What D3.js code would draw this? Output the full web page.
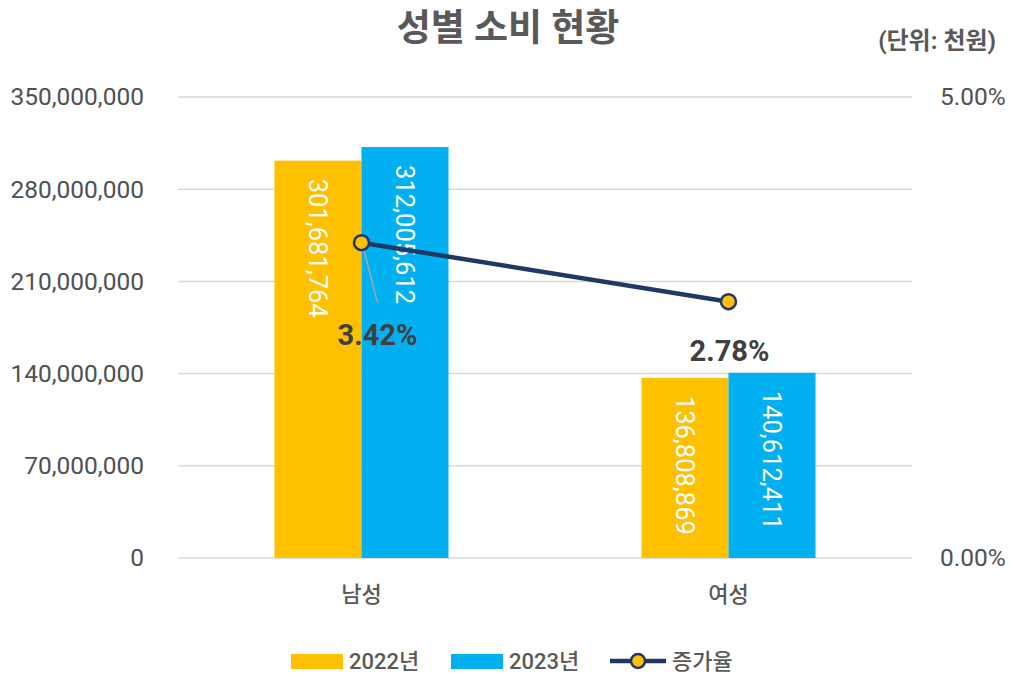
<!DOCTYPE html>
<html>
<head>
<meta charset="utf-8">
<script src="https://cdn.jsdelivr.net/npm/d3@7"></script>
<style>
    body { margin: 0; background: #fff; }
    svg text { font-family: Roboto, "Noto Sans CJK KR", sans-serif; }
</style>
</head>
<body>
<svg id="chart" width="1010" height="675"></svg>
<script>
// chart data
var categories = ["남성", "여성"];
var years = ["2022년", "2023년"];
var spend2022 = [301681764, 136808869];
var spend2023 = [312005612, 140612411];
var growth = [0.0342, 0.0278];
var leftTicks = [0, 70000000, 140000000, 210000000, 280000000, 350000000];
var rightTicks = [0, 0.05];

var colors = ["#FFC000", "#00B0F0"];
var lineColor = "#203864";
var textColor = "#595959";

var svg = d3.select("#chart"),
    margin = {top: 97, right: 98, bottom: 117, left: 178},
    width = +svg.attr("width") - margin.left - margin.right,
    height = +svg.attr("height") - margin.top - margin.bottom;

var g = svg.append("g")
    .attr("transform", "translate(" + margin.left + "," + margin.top + ")");

var x0 = d3.scaleBand().domain(categories).range([0, width]).padding(0);
var barW = 87;
var x1 = d3.scaleBand().domain(years)
    .range([x0.bandwidth() / 2 - barW, x0.bandwidth() / 2 + barW]);
var y = d3.scaleLinear().domain([0, 350000000]).range([height, 0]);
var y2 = d3.scaleLinear().domain([0, 0.05]).range([height, 0]);

// title
svg.append("text")
    .attr("x", 508).attr("y", 41)
    .attr("text-anchor", "middle")
    .attr("font-size", 37).attr("font-weight", "bold")
    .attr("fill", textColor)
    .text("성별 소비 현황");

svg.append("text")
    .attr("x", 996).attr("y", 49)
    .attr("text-anchor", "end")
    .attr("font-size", 24).attr("font-weight", "bold")
    .attr("fill", textColor)
    .text("(단위: 천원)");

// gridlines
g.append("g")
    .selectAll("line")
    .data(leftTicks)
    .enter().append("line")
    .attr("x1", 0).attr("x2", width)
    .attr("y1", function(d) { return y(d); })
    .attr("y2", function(d) { return y(d); })
    .attr("stroke", "#D9D9D9").attr("stroke-width", 1.5);

// left axis
var yAxis = g.append("g")
    .attr("transform", "translate(-31,0)")
    .call(d3.axisLeft(y).tickValues(leftTicks).tickSize(0).tickFormat(d3.format(",")));
yAxis.select(".domain").remove();
yAxis.selectAll("text")
    .attr("font-size", 24.5).attr("fill", "#505050")
    .style("font-family", "Roboto, sans-serif");

// right axis
var y2Axis = g.append("g")
    .attr("transform", "translate(" + (width + 25) + ",0)")
    .call(d3.axisRight(y2).tickValues(rightTicks).tickSize(0).tickFormat(d3.format(".2%")));
y2Axis.select(".domain").remove();
y2Axis.selectAll("text")
    .attr("font-size", 24.5).attr("fill", "#505050")
    .style("font-family", "Roboto, sans-serif");

// bottom axis
var xAxis = g.append("g")
    .attr("transform", "translate(0," + height + ")")
    .call(d3.axisBottom(x0).tickSize(0).tickPadding(28));
xAxis.select(".domain").remove();
xAxis.selectAll("text")
    .attr("font-size", 22).attr("font-weight", 500).attr("fill", textColor)
    .style("font-family", "Roboto, 'Noto Sans CJK KR', sans-serif");

// bars
var series = [spend2022, spend2023];
var groups = g.selectAll(".grp")
    .data(categories)
    .enter().append("g")
    .attr("class", "grp")
    .attr("transform", function(d) { return "translate(" + x0(d) + ",0)"; });

groups.selectAll("rect")
    .data(function(d, i) {
        return years.map(function(yr, j) { return {year: yr, value: series[j][i], k: j}; });
    })
    .enter().append("rect")
    .attr("x", function(d) { return x1(d.year); })
    .attr("width", x1.bandwidth())
    .attr("y", function(d) { return y(d.value); })
    .attr("height", function(d) { return height - y(d.value); })
    .attr("fill", function(d) { return colors[d.k]; });

groups.selectAll(".val")
    .data(function(d, i) {
        return years.map(function(yr, j) { return {year: yr, value: series[j][i]}; });
    })
    .enter().append("text")
    .attr("class", "val")
    .attr("transform", function(d) {
        return "translate(" + (x1(d.year) + x1.bandwidth() / 2) + "," + (y(d.value) + 18) + ") rotate(90)";
    })
    .attr("dy", "0.35em")
    .attr("font-size", 25.5).attr("fill", "#fff")
    .text(function(d) { return d3.format(",")(d.value); });

// growth line
var pts = categories.map(function(c, i) {
    return {cat: c, v: growth[i], px: x0(c) + x0.bandwidth() / 2, py: y2(growth[i])};
});

// leader line for first label
g.append("line")
    .attr("x1", pts[0].px + 1).attr("y1", pts[0].py + 2)
    .attr("x2", pts[0].px + 16).attr("y2", pts[0].py + 60)
    .attr("stroke", "#A6A6A6").attr("stroke-width", 1.5);

var line = d3.line()
    .x(function(d) { return d.px; })
    .y(function(d) { return d.py; });

g.append("path")
    .datum(pts)
    .attr("d", line)
    .attr("fill", "none")
    .attr("stroke", lineColor)
    .attr("stroke-width", 4.5);

g.selectAll(".dot")
    .data(pts)
    .enter().append("circle")
    .attr("class", "dot")
    .attr("cx", function(d) { return d.px; })
    .attr("cy", function(d) { return d.py; })
    .attr("r", 7.5)
    .attr("fill", "#FFC000")
    .attr("stroke", lineColor).attr("stroke-width", 2.5);

var labelOffsets = [{dx: 16, dy: 102}, {dx: 1, dy: 59}];
g.selectAll(".pct")
    .data(pts)
    .enter().append("text")
    .attr("class", "pct")
    .attr("x", function(d, i) { return d.px + labelOffsets[i].dx; })
    .attr("y", function(d, i) { return d.py + labelOffsets[i].dy; })
    .attr("text-anchor", "middle")
    .attr("font-size", 29).attr("font-weight", "bold")
    .attr("fill", "#404040")
    .text(function(d) { return d3.format(".2%")(d.v); });

// legend
var legend = svg.append("g").attr("transform", "translate(291,661)");
var legendItems = [
    {label: years[0], x: 0, type: "bar", color: colors[0]},
    {label: years[1], x: 160, type: "bar", color: colors[1]},
    {label: "증가율", x: 319, type: "line"}
];
legendItems.forEach(function(it) {
    var lg = legend.append("g").attr("transform", "translate(" + it.x + ",0)");
    if (it.type === "bar") {
        lg.append("rect").attr("x", 0).attr("y", -7).attr("width", 52).attr("height", 15).attr("fill", it.color);
        lg.append("text").attr("x", 58).attr("y", 0).attr("dy", "0.36em")
            .attr("font-size", 22).attr("font-weight", 500).attr("fill", textColor).text(it.label);
    } else {
        lg.append("line").attr("x1", 0).attr("x2", 56).attr("y1", 0).attr("y2", 0)
            .attr("stroke", lineColor).attr("stroke-width", 4.5);
        lg.append("circle").attr("cx", 28).attr("cy", 0).attr("r", 7)
            .attr("fill", "#FFC000").attr("stroke", lineColor).attr("stroke-width", 2.5);
        lg.append("text").attr("x", 62).attr("y", 0).attr("dy", "0.36em")
            .attr("font-size", 22).attr("font-weight", 500).attr("fill", textColor).text(it.label);
    }
});
</script>
</body>
</html>
